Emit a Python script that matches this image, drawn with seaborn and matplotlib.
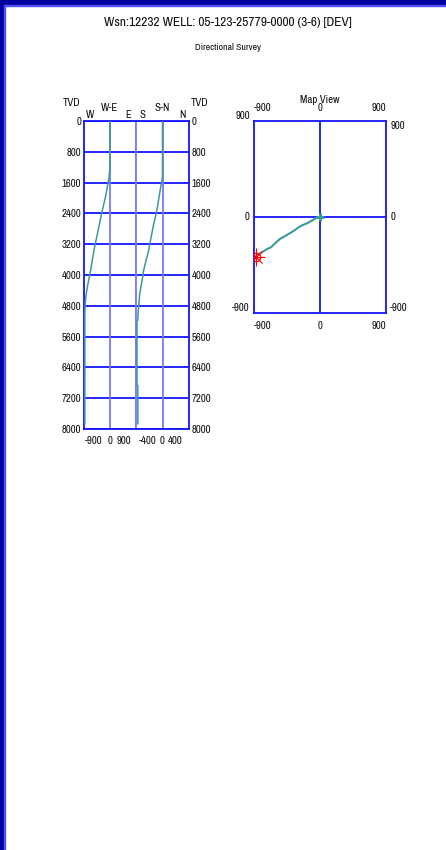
import numpy as np
import pandas as pd
import seaborn as sns
import matplotlib.pyplot as plt
from matplotlib.patches import Rectangle
from matplotlib.transforms import ScaledTranslation

title = 'Wsn:12232 WELL: 05-123-25779-0000 (3-6) [DEV]'
subtitle = 'Directional Survey'

# survey stations (ft)
tvd = [0, 1150, 1450, 1600, 1750, 2000, 2270, 2400, 2660, 3000, 3220, 3350, 3600,
       3870, 4040, 4300, 4520, 4730, 4820, 4990, 5170, 5200, 6860, 6870, 7870]
ew = [0, 0, -30, -65, -100, -165, -250, -288, -360, -455, -519, -550, -610,
      -668, -715, -780, -830, -855, -862, -870, -870, -870, -870, -870, -870]
ns = [0, 0, 0, -15, -30, -55, -80, -95, -131, -170, -195, -207, -245,
      -284, -298, -325, -346, -355, -361, -368, -372, -385, -385, -372, -372]

tvd_ticks = list(range(0, 8001, 800))
we_ticks = [-900, 0, 900]
sn_ticks = [-400, 0, 400]
map_ticks = [-900, 0, 900]

survey = pd.DataFrame({'tvd': tvd, 'ew': ew, 'ns': ns})

sns.set_style('white')
plt.rcParams['font.family'] = ['Archivo Narrow', 'Liberation Sans', 'DejaVu Sans']

W, H = 446, 850
fig = plt.figure(figsize=(W / 100, H / 100), dpi=100)
fig.patch.set_facecolor('white')


def box(x0, y0, x1, y1):
    # pixel box -> figure fraction
    return [x0 / W, 1 - y1 / H, (x1 - x0) / W, (y1 - y0) / H]


def shift(lbl, dx):
    # nudge a tick label sideways by dx pixels
    lbl.set_transform(lbl.get_transform() + ScaledTranslation(dx / 100, 0, fig.dpi_scale_trans))


blue = '#1414ff'
light = '#7a7aff'
teal = '#3a9a9a'
ink = '#111111'
fs = 7.8

# window frame
fig.patches.append(Rectangle((0, 1 - 5 / H), 1, 5 / H, transform=fig.transFigure, color='#0000a0', zorder=0))
fig.patches.append(Rectangle((0, 1 - 6 / H), 1, 1 / H, transform=fig.transFigure, color='#5050ff', zorder=0))
fig.patches.append(Rectangle((0, 0), 4 / W, 1, transform=fig.transFigure, color='#0000a0', zorder=0))
fig.patches.append(Rectangle((4 / W, 0), 1 / W, 1 - 5 / H, transform=fig.transFigure, color='#5050ff', zorder=0))

fig.text(228 / W, 1 - 22 / H, title, ha='center', va='center', fontsize=9.6, color=ink)
fig.text(228 / W, 1 - 47 / H, subtitle, ha='center', va='center', fontsize=7, color=ink)

ax_we = fig.add_axes(box(84, 121, 136, 429))
ax_sn = fig.add_axes(box(136, 121, 189, 429))
ax_map = fig.add_axes(box(254, 121, 386, 313))

# ---- section tracks
for ax, col, lim, ticks in [(ax_we, 'ew', 900, we_ticks), (ax_sn, 'ns', 400, sn_ticks)]:
    for t in tvd_ticks:
        ax.axhline(t, color=blue, lw=1.3, zorder=1)
    ax.axvline(0, color=light, lw=1.3, zorder=1)
    sns.lineplot(data=survey, x=col, y='tvd', sort=False, estimator=None,
                 color=teal, lw=1.1, ax=ax, zorder=3)
    ax.set_xlim(-lim, lim)
    ax.set_ylim(8000, 0)
    ax.set_xticks(ticks)
    ax.set_xticklabels([str(t) for t in ticks])
    ax.set_yticks(tvd_ticks)
    ax.set_yticklabels([str(t) for t in tvd_ticks])
    ax.set_xlabel('')
    ax.set_ylabel('')
    ax.tick_params(length=0, labelsize=fs, labelcolor=ink, pad=5)
    for s in ax.spines.values():
        s.set_color(blue)
        s.set_linewidth(1.3)

ax_we.spines['right'].set_color(light)
ax_sn.spines['left'].set_color(light)
ax_we.tick_params(axis='y', pad=2)
ax_sn.yaxis.tick_right()
ax_sn.tick_params(axis='y', length=0, pad=2)

# bottom offset labels sit bunched inside the tracks
for ax, moves in [(ax_we, [1, 0, -5]), (ax_sn, [3, 0, -7])]:
    lbls = ax.get_xticklabels()
    lbls[0].set_ha('left')
    lbls[-1].set_ha('right')
    for lbl, dx in zip(lbls, moves):
        shift(lbl, dx)


# axis headers
def note(ax, x, dy, s, dx=0):
    ax.annotate(s, xy=(x, 1), xycoords=('data', 'axes fraction'), xytext=(dx, dy),
                textcoords='offset pixels', ha='center', va='center', fontsize=fs, color=ink)


note(ax_we, -900, 6, 'W', dx=6)
note(ax_we, 0, 13, 'W-E')
note(ax_we, 900, 6, 'E', dx=-8)
note(ax_sn, -400, 6, 'S', dx=6)
note(ax_sn, 0, 13, 'S-N')
note(ax_sn, 400, 6, 'N', dx=-7)
fig.text(72 / W, 1 - 103 / H, 'TVD', ha='center', va='center', fontsize=fs, color=ink)
fig.text(200 / W, 1 - 103 / H, 'TVD', ha='center', va='center', fontsize=fs, color=ink)

# ---- map view
ax_map.axhline(0, color=blue, lw=1.3, zorder=1)
ax_map.axvline(0, color=blue, lw=1.3, zorder=1)
sns.lineplot(data=survey, x='ew', y='ns', sort=False, estimator=None,
             color=teal, lw=1.5, ax=ax_map, zorder=3)
ax_map.plot(ew[0], ns[0], marker='+', color=teal, ms=6, mew=2.2, zorder=4)
ax_map.plot(ew[-1], ns[-1], marker='o', mfc='none', mec='red', ms=6, mew=1, zorder=4)
ax_map.plot(ew[-1], ns[-1], marker='+', color='red', ms=13, mew=0.8, zorder=4)
ax_map.plot(ew[-1], ns[-1], marker='x', color='red', ms=9, mew=0.8, zorder=4)
ax_map.set_xlim(-900, 900)
ax_map.set_ylim(-900, 900)
ax_map.set_xticks(map_ticks)
ax_map.set_xticklabels([str(t) for t in map_ticks])
ax_map.set_yticks(map_ticks)
ax_map.set_yticklabels([str(t) for t in map_ticks])
ax_map.set_xlabel('')
ax_map.set_ylabel('')
ax_map.tick_params(length=0, labelsize=fs, labelcolor=ink, labeltop=True, labelright=True)
ax_map.tick_params(axis='x', pad=6)
ax_map.tick_params(axis='y', which='both', pad=3)
for s in ax_map.spines.values():
    s.set_color(blue)
    s.set_linewidth(1.3)

xt = ax_map.xaxis.get_major_ticks()
for tk, ha in zip(xt, ['left', 'center', 'right']):
    tk.label1.set_ha(ha)
    tk.label2.set_ha(ha)
yt = ax_map.yaxis.get_major_ticks()
for tk, va1, va2 in zip(yt, ['bottom', 'center', 'bottom'], ['bottom', 'center', 'top']):
    tk.label1.set_va(va1)
    tk.label2.set_va(va2)

ax_map.annotate('Map View', xy=(0.5, 1), xycoords='axes fraction', xytext=(0, 21),
                textcoords='offset pixels', ha='center', va='center', fontsize=fs, color=ink)

fig.savefig('out.png', dpi=100, facecolor='white')
